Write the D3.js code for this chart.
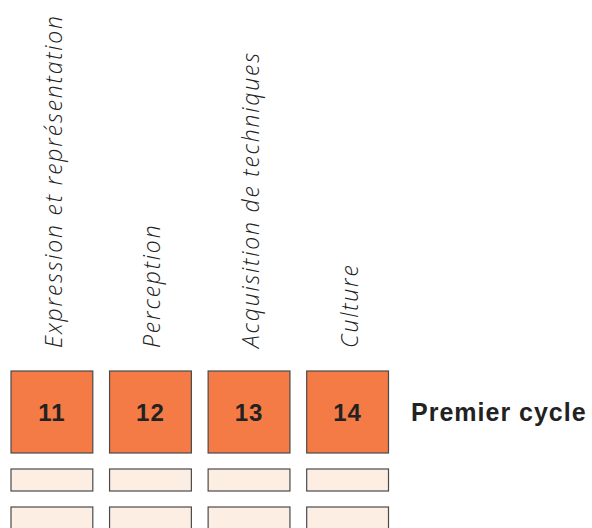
<!DOCTYPE html>
<html>
<head>
<meta charset="utf-8">
<script src="https://cdn.jsdelivr.net/npm/d3@7"></script>
<style>
  html, body { margin: 0; padding: 0; background: #fff; }
  svg { display: block; }
</style>
</head>
<body>
<div id="chart"></div>
<script>
// data
const domains = ["Expression et représentation", "Perception", "Acquisition de techniques", "Culture"];
const codes = [11, 12, 13, 14];
const cycles = ["Premier cycle", "", ""];

const width = 592;
const height = 528;

const svg = d3.select("#chart").append("svg")
  .attr("width", width)
  .attr("height", height);

const x = d3.scaleBand()
  .domain(domains)
  .range([11, 388.5])
  .paddingInner(0.17)
  .paddingOuter(0);

// row layout: first row is the tall coded boxes, the rest are thin empty rows
const rowTop = [371, 469, 507];
const rowH = [82, 22, 22];

// rotated labels
svg.selectAll("text.domain")
  .data(domains)
  .join("text")
  .attr("class", "domain")
  .attr("transform", d => `translate(${x(d) + x.bandwidth() / 2 + 10},348) rotate(-90)`)
  .style("font-family", "'Open Sans', sans-serif")
  .style("font-style", "italic")
  .style("font-weight", 300)
  .style("font-size", "23px")
  .style("letter-spacing", "1.8px")
  .style("fill", "#222")
  .text(d => d);

// rows of boxes
cycles.forEach((cycle, i) => {
  const g = svg.append("g");
  g.selectAll("rect")
    .data(domains)
    .join("rect")
    .attr("x", d => x(d))
    .attr("y", rowTop[i])
    .attr("width", x.bandwidth())
    .attr("height", rowH[i])
    .attr("fill", i === 0 ? "#f47b45" : "#fdeee4")
    .attr("stroke", "#4a4a4a")
    .attr("stroke-width", 1.2);

  if (i === 0) {
    g.selectAll("text")
      .data(domains)
      .join("text")
      .attr("x", d => x(d) + x.bandwidth() / 2)
      .attr("y", rowTop[i] + rowH[i] / 2 + 9)
      .attr("text-anchor", "middle")
      .style("font-family", "'Liberation Sans', Arial, sans-serif")
      .style("font-weight", "bold")
      .style("font-size", "24px")
      .style("letter-spacing", "1px")
      .style("fill", "#222")
      .text((d, j) => codes[j]);
  }

  if (cycle) {
    svg.append("text")
      .attr("x", 411)
      .attr("y", rowTop[i] + rowH[i] / 2 + 9)
      .style("font-family", "'Liberation Sans', Arial, sans-serif")
      .style("font-weight", "bold")
      .style("font-size", "25px")
      .style("letter-spacing", "1px")
      .style("fill", "#222")
      .text(cycle);
  }
});
</script>
</body>
</html>
